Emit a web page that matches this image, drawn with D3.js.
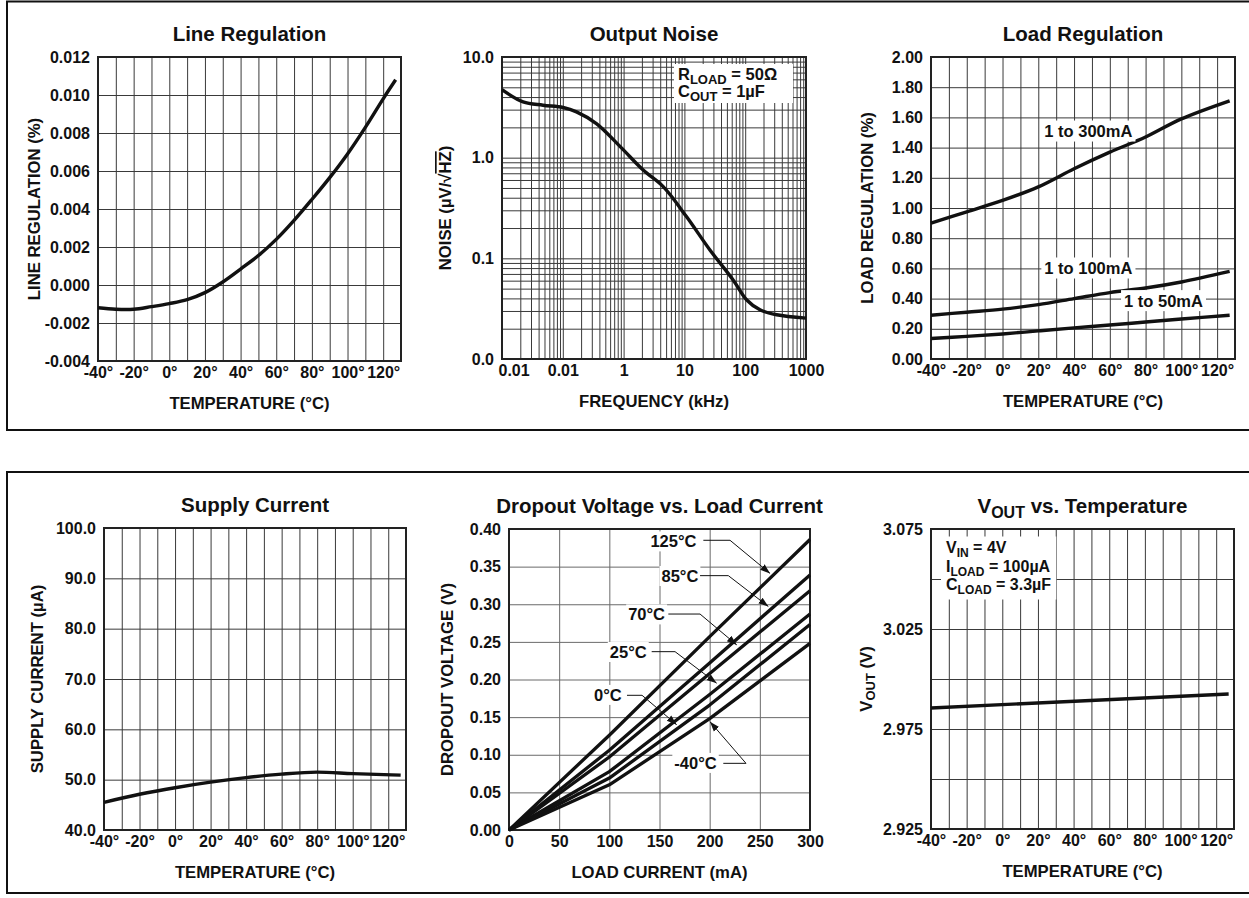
<!DOCTYPE html>
<html>
<head>
<meta charset="utf-8">
<script src="https://cdn.jsdelivr.net/npm/d3@7"></script>
<style>
  body { margin: 0; background: #fff; }
  text { font-family: "Liberation Sans", Arial, sans-serif; font-weight: bold; fill: #111; }
</style>
</head>
<body>
<svg id="chart" width="1249" height="898"></svg>
<script>
// ------------------------------------------------------------
// Data
// ------------------------------------------------------------
const tempTicks = [-40, -20, 0, 20, 40, 60, 80, 100, 120];
const tempLabels = ["-40°", "-20°", "0°", "20°", "40°", "60°", "80°", "100°", "120°"];

// Line regulation (%) vs temperature
const lineRegTemp = [-40, -30, -20, -10, 0, 10, 20, 30, 40, 50, 60, 70, 80, 90, 100, 110, 120, 127];
const lineRegValue = [-0.0012, -0.00128, -0.00128, -0.00114, -0.00098, -0.00077, -0.0004, 0.00016, 0.00084,
  0.00155, 0.0024, 0.0034, 0.0045, 0.00565, 0.0069, 0.0083, 0.0098, 0.0108];
const lineRegTicks = [-0.004, -0.002, 0, 0.002, 0.004, 0.006, 0.008, 0.010, 0.012];
const lineRegLabels = ["-0.004", "-0.002", "0.000", "0.002", "0.004", "0.006", "0.008", "0.010", "0.012"];

// Output noise vs frequency
const noiseFreq = [0.01, 0.0222, 0.0473, 0.101, 0.168, 0.357, 0.887, 2.1, 4.48, 10.8, 26.3, 63.3, 105, 175, 329, 1000];
const noiseValue = [4.74, 3.58, 3.32, 3.15, 2.85, 2.18, 1.28, 0.753, 0.515, 0.26, 0.121, 0.061, 0.0388, 0.0308, 0.0275, 0.0255];
const noiseXTicks = [0.01, 0.1, 1, 10, 100, 1000];
const noiseXLabels = ["0.01", "0.01", "1", "10", "100", "1000"];
const noiseYTicks = [0.01, 0.1, 1, 10];
const noiseYLabels = ["0.0", "0.1", "1.0", "10.0"];

// Load regulation (%) vs temperature
const loadTemp = [-40, -20, 0, 20, 40, 60, 80, 100, 127];
const load300 = [0.90, 0.975, 1.05, 1.14, 1.26, 1.37, 1.47, 1.59, 1.71];
const load100 = [0.29, 0.31, 0.33, 0.36, 0.40, 0.44, 0.47, 0.51, 0.58];
const load50 = [0.136, 0.15, 0.166, 0.186, 0.206, 0.225, 0.245, 0.265, 0.29];
const loadTicks = [0, 0.2, 0.4, 0.6, 0.8, 1.0, 1.2, 1.4, 1.6, 1.8, 2.0];
const loadLabels = ["0.00", "0.20", "0.40", "0.60", "0.80", "1.00", "1.20", "1.40", "1.60", "1.80", "2.00"];

// Supply current (uA) vs temperature
const supplyTemp = [-40, -20, 0, 20, 40, 60, 80, 100, 127];
const supplyValue = [45.5, 47.1, 48.4, 49.5, 50.4, 51.1, 51.5, 51.2, 50.9];
const supplyTicks = [40, 50, 60, 70, 80, 90, 100];
const supplyLabels = ["40.0", "50.0", "60.0", "70.0", "80.0", "90.0", "100.0"];

// Dropout voltage (V) vs load current (mA)
const dropCurrent = [0, 100, 200, 300];
const drop125 = [0, 0.126, 0.257, 0.386];
const drop85 = [0, 0.106, 0.222, 0.339];
const drop70 = [0, 0.097, 0.208, 0.318];
const drop25 = [0, 0.0775, 0.18, 0.287];
const drop0 = [0, 0.069, 0.166, 0.273];
const dropM40 = [0, 0.060, 0.148, 0.248];
const dropXTicks = [0, 50, 100, 150, 200, 250, 300];
const dropYTicks = [0, 0.05, 0.10, 0.15, 0.20, 0.25, 0.30, 0.35, 0.40];
const dropYLabels = ["0.00", "0.05", "0.10", "0.15", "0.20", "0.25", "0.30", "0.35", "0.40"];

// Vout vs temperature
const voutTemp = [-40, 127];
const voutValue = [2.9855, 2.9925];
const voutGrid = [2.925, 2.95, 2.975, 3.0, 3.025, 3.05, 3.075];
const voutTicks = [2.925, 2.975, 3.025, 3.075];
const voutLabels = ["2.925", "2.975", "3.025", "3.075"];

// ------------------------------------------------------------
// Functions
// ------------------------------------------------------------
const svg = d3.select("#chart");

const defs = svg.append("defs");
defs.append("marker")
  .attr("id", "arrow")
  .attr("viewBox", "0 0 10 10")
  .attr("refX", 10).attr("refY", 5)
  .attr("markerWidth", 10).attr("markerHeight", 10)
  .attr("markerUnits", "userSpaceOnUse")
  .attr("orient", "auto")
  .append("path").attr("d", "M0,1.5L10,5L0,8.5Z").attr("fill", "#111");

// outer frames (open to the right, as in the page scan)
[[1.5, 430], [472, 893]].forEach(([t, b]) => {
  svg.append("rect")
    .attr("x", 7).attr("y", t).attr("width", 1300).attr("height", b - t)
    .attr("fill", "none").attr("stroke", "#111").attr("stroke-width", 2);
});

function drawPanel(p) {
  const x = (p.xLog ? d3.scaleLog() : d3.scaleLinear()).domain(p.xDomain).range([p.x0, p.x1]);
  const y = (p.yLog ? d3.scaleLog() : d3.scaleLinear()).domain(p.yDomain).range([p.y1, p.y0]);
  const g = svg.append("g");
  const gridColor = p.gridColor || "#3a3a3a";

  // grid
  g.append("g").attr("transform", `translate(0,${p.y1})`)
    .call(d3.axisBottom(x).tickValues(p.xGrid).tickSize(-(p.y1 - p.y0)).tickFormat(""))
    .call(a => a.select(".domain").remove())
    .selectAll("line").attr("stroke", gridColor).attr("stroke-width", 1);
  g.append("g").attr("transform", `translate(${p.x0},0)`)
    .call(d3.axisLeft(y).tickValues(p.yGrid).tickSize(-(p.x1 - p.x0)).tickFormat(""))
    .call(a => a.select(".domain").remove())
    .selectAll("line").attr("stroke", gridColor).attr("stroke-width", 1);

  // frame
  g.append("rect")
    .attr("x", p.x0).attr("y", p.y0)
    .attr("width", p.x1 - p.x0).attr("height", p.y1 - p.y0)
    .attr("fill", "none").attr("stroke", "#222").attr("stroke-width", 2);

  // tick labels
  const xa = g.append("g").attr("transform", `translate(0,${p.y1})`)
    .call(d3.axisBottom(x).tickValues(p.xTicks).tickFormat((d, i) => p.xLabels[i]).tickSize(0).tickPadding(6))
    .call(a => a.select(".domain").remove())
    .attr("font-family", null).attr("font-size", null);
  xa.selectAll("text").attr("font-size", 16);

  g.append("g").attr("transform", `translate(${p.x0},0)`)
    .call(d3.axisLeft(y).tickValues(p.yTicks).tickFormat((d, i) => p.yLabels[i]).tickSize(0).tickPadding(8))
    .call(a => a.select(".domain").remove())
    .attr("font-family", null).attr("font-size", null)
    .selectAll("text").attr("font-size", 16);

  // titles
  const cx = (p.x0 + p.x1) / 2;
  const title = g.append("text").attr("x", cx).attr("y", p.y0 - 16)
    .attr("text-anchor", "middle").attr("font-size", 20.5);
  p.title.forEach(s => title.append("tspan").attr("font-size", s.sub ? 16 : 20.5).attr("dy", s.dy || 0).text(s.t));

  g.append("text").attr("x", cx).attr("y", p.y1 + 48)
    .attr("text-anchor", "middle").attr("font-size", 16.7).text(p.xTitle);

  const yt = g.append("text")
    .attr("transform", `translate(${p.yTitleX},${(p.y0 + p.y1) / 2}) rotate(-90)`)
    .attr("text-anchor", "middle").attr("font-size", 16.7);
  p.yTitle.forEach(s => {
    const ts = yt.append("tspan").attr("font-size", s.sub ? 13 : 16.7).attr("dy", s.dy || 0).text(s.t);
    if (s.over) ts.style("text-decoration", "overline");
  });

  return { g, x, y, xa };
}

function drawCurve(panel, xs, ys, width, curve) {
  const pts = xs.map((d, i) => [d, ys[i]]);
  panel.g.append("path")
    .datum(pts)
    .attr("fill", "none").attr("stroke", "#111").attr("stroke-width", width)
    .attr("stroke-linejoin", "round")
    .attr("d", d3.line().x(d => panel.x(d[0])).y(d => panel.y(d[1])).curve(curve));
}

function boxedLabel(g, x, y, lines, size, anchor, pad) {
  const t = g.append("text").attr("font-size", size).attr("text-anchor", anchor || "middle");
  lines.forEach((line, li) => {
    line.forEach((s, si) => {
      const ts = t.append("tspan").text(s.t).attr("font-size", s.sub ? size - 4 : size);
      if (si === 0) ts.attr("x", x).attr("y", y + li * (size + 2.5));
      else ts.attr("dy", s.dy || 0);
    });
  });
  const bb = t.node().getBBox();
  g.insert("rect", () => t.node())
    .attr("x", bb.x - pad).attr("y", bb.y - pad / 2)
    .attr("width", bb.width + 2 * pad).attr("height", bb.height + pad)
    .attr("fill", "#fff");
  return t;
}

const tempGrid = d3.range(-40, 131, 10);
const smooth = d3.curveCatmullRom.alpha(0.5);

// ------------------------------------------------------------
// Line Regulation
// ------------------------------------------------------------
const p1 = drawPanel({
  x0: 98, x1: 401, y0: 57, y1: 361,
  xDomain: [-40, 130], yDomain: [-0.004, 0.012],
  xGrid: tempGrid, yGrid: lineRegTicks,
  xTicks: tempTicks, xLabels: tempLabels, yTicks: lineRegTicks, yLabels: lineRegLabels,
  title: [{ t: "Line Regulation" }], xTitle: "TEMPERATURE (°C)",
  yTitle: [{ t: "LINE REGULATION (%)" }], yTitleX: 40
});
drawCurve(p1, lineRegTemp, lineRegValue, 3.4, smooth);

// ------------------------------------------------------------
// Output Noise
// ------------------------------------------------------------
const noiseX = d3.scaleLog().domain([0.01, 1000]);
const noiseY = d3.scaleLog().domain([0.01, 10]);
const p2 = drawPanel({
  x0: 502, x1: 806, y0: 57, y1: 359,
  xLog: true, yLog: true,
  xDomain: [0.01, 1000], yDomain: [0.01, 10],
  xGrid: noiseX.ticks(), yGrid: noiseY.ticks(),
  xTicks: noiseXTicks, xLabels: noiseXLabels, yTicks: noiseYTicks, yLabels: noiseYLabels,
  title: [{ t: "Output Noise" }], xTitle: "FREQUENCY (kHz)",
  yTitle: [{ t: "NOISE (µV/√" }, { t: "HZ", over: true }, { t: ")" }], yTitleX: 451
});
p2.xa.select(".tick text").attr("text-anchor", "start").attr("x", -4);
drawCurve(p2, noiseFreq, noiseValue, 3.4, smooth);
{
  const gb = p2.g.append("g");
  gb.append("rect").attr("x", 674).attr("y", 64).attr("width", 119).attr("height", 39).attr("fill", "#fff");
  const t = gb.append("text").attr("font-size", 16.5);
  t.append("tspan").attr("x", 678).attr("y", 80).text("R");
  t.append("tspan").attr("font-size", 13).attr("dy", 4).text("LOAD");
  t.append("tspan").attr("dy", -4).text(" = 50Ω");
  const t2 = gb.append("text").attr("font-size", 16.5);
  t2.append("tspan").attr("x", 678).attr("y", 97).text("C");
  t2.append("tspan").attr("font-size", 13).attr("dy", 4).text("OUT");
  t2.append("tspan").attr("dy", -4).text(" = 1µF");
}

// ------------------------------------------------------------
// Load Regulation
// ------------------------------------------------------------
const p3 = drawPanel({
  x0: 931, x1: 1235, y0: 57, y1: 359,
  xDomain: [-40, 130], yDomain: [0, 2.0],
  xGrid: tempGrid, yGrid: loadTicks,
  xTicks: tempTicks, xLabels: tempLabels, yTicks: loadTicks, yLabels: loadLabels,
  title: [{ t: "Load Regulation" }], xTitle: "TEMPERATURE (°C)",
  yTitle: [{ t: "LOAD REGULATION (%)" }], yTitleX: 873
});
drawCurve(p3, loadTemp, load300, 3.4, smooth);
drawCurve(p3, loadTemp, load100, 3.4, smooth);
drawCurve(p3, loadTemp, load50, 3.4, smooth);
boxedLabel(p3.g, p3.x(48), p3.y(1.507) + 5.6, [[{ t: "1 to 300mA" }]], 16.5, "middle", 3);
boxedLabel(p3.g, p3.x(48), p3.y(0.60) + 5.6, [[{ t: "1 to 100mA" }]], 16.5, "middle", 3);
boxedLabel(p3.g, p3.x(90), p3.y(0.384) + 5.6, [[{ t: "1 to 50mA" }]], 16.5, "middle", 3);

// ------------------------------------------------------------
// Supply Current
// ------------------------------------------------------------
const p4 = drawPanel({
  x0: 104, x1: 406, y0: 528, y1: 830,
  xDomain: [-40, 130], yDomain: [40, 100],
  xGrid: tempGrid, yGrid: supplyTicks,
  xTicks: tempTicks, xLabels: tempLabels, yTicks: supplyTicks, yLabels: supplyLabels,
  title: [{ t: "Supply Current" }], xTitle: "TEMPERATURE (°C)",
  yTitle: [{ t: "SUPPLY CURRENT (µA)" }], yTitleX: 43
});
drawCurve(p4, supplyTemp, supplyValue, 3.4, d3.curveMonotoneX);

// ------------------------------------------------------------
// Dropout Voltage vs. Load Current
// ------------------------------------------------------------
const p5 = drawPanel({
  x0: 509, x1: 810, y0: 529, y1: 830,
  xDomain: [0, 300], yDomain: [0, 0.40],
  xGrid: dropXTicks, yGrid: dropYTicks, gridColor: "#6a6a6a",
  xTicks: dropXTicks, xLabels: dropXTicks.map(String), yTicks: dropYTicks, yLabels: dropYLabels,
  title: [{ t: "Dropout Voltage vs. Load Current" }], xTitle: "LOAD CURRENT (mA)",
  yTitle: [{ t: "DROPOUT VOLTAGE (V)" }], yTitleX: 453
});
[drop125, drop85, drop70, drop25, drop0, dropM40].forEach(s => drawCurve(p5, dropCurrent, s, 3.3, d3.curveLinear));

// labels with leader lines: [label, text end (mA, V), leader points (mA, V)]
const dropNotes = [
  ["125°C", [186.8, 0.383], [[193.7, 0.385], [220.3, 0.385], [260.2, 0.341]]],
  ["85°C", [188.7, 0.337], [[190.4, 0.338], [218.6, 0.338], [258.5, 0.297]]],
  ["70°C", [155.5, 0.286], [[158.8, 0.287], [190.4, 0.287], [227, 0.246]]],
  ["25°C", [137.2, 0.236], [[142.2, 0.237], [165.5, 0.237], [207, 0.195]]],
  ["0°C", [112.3, 0.179], [[117.6, 0.179], [132.6, 0.179], [167.1, 0.140]]],
  ["-40°C", [207, 0.0886], [[213.6, 0.0886], [236.2, 0.0886], [200.3, 0.144]]]
];
dropNotes.forEach(([label, at, pts]) => {
  boxedLabel(p5.g, p5.x(at[0]), p5.y(at[1]) + 5.6, [[{ t: label }]], 16.5, "end", 2);
  p5.g.append("path")
    .attr("d", d3.line().x(d => p5.x(d[0])).y(d => p5.y(d[1]))(pts))
    .attr("fill", "none").attr("stroke", "#111").attr("stroke-width", 1)
    .attr("marker-end", "url(#arrow)");
});

// ------------------------------------------------------------
// VOUT vs. Temperature
// ------------------------------------------------------------
const p6 = drawPanel({
  x0: 931, x1: 1234, y0: 529, y1: 829,
  xDomain: [-40, 130], yDomain: [2.925, 3.075],
  xGrid: tempGrid, yGrid: voutGrid,
  xTicks: tempTicks, xLabels: tempLabels, yTicks: voutTicks, yLabels: voutLabels,
  title: [{ t: "V" }, { t: "OUT", sub: true, dy: 5 }, { t: " vs. Temperature", dy: -5 }],
  xTitle: "TEMPERATURE (°C)",
  yTitle: [{ t: "V" }, { t: "OUT", sub: true, dy: 3 }, { t: " (V)", dy: -3 }], yTitleX: 872
});
drawCurve(p6, voutTemp, voutValue, 3.4, d3.curveLinear);
boxedLabel(p6.g, 946, 553, [
  [{ t: "V" }, { t: "IN", sub: true, dy: 4 }, { t: " = 4V", dy: -4 }],
  [{ t: "I" }, { t: "LOAD", sub: true, dy: 4 }, { t: " = 100µA", dy: -4 }],
  [{ t: "C" }, { t: "LOAD", sub: true, dy: 4 }, { t: " = 3.3µF", dy: -4 }]
], 16, "start", 5);
</script>
</body>
</html>
